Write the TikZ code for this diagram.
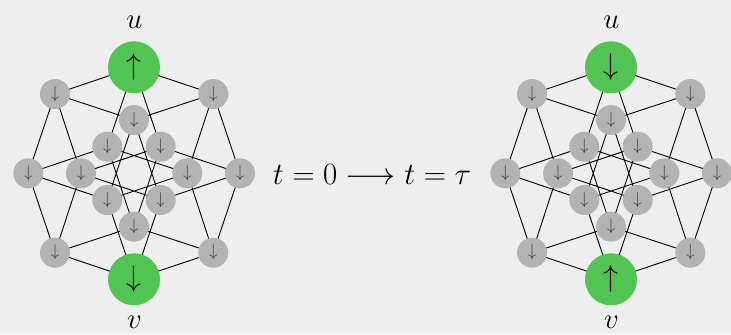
\RequirePackage{fix-cm}
\documentclass[tikz,border=0pt]{standalone}
\usepackage{amsmath}
\definecolor{bg}{HTML}{EEEEEE}
\definecolor{sgreen}{HTML}{52C452}
\definecolor{sgray}{HTML}{B3B3B3}
\definecolor{adark}{HTML}{3A3A3A}
\begin{document}
\begin{tikzpicture}[x=1bp,y=-1bp,
  small/.style={circle,fill=sgray,minimum size=30bp,inner sep=0pt,text=adark,font=\fontsize{17}{20}\selectfont},
  big/.style={circle,fill=sgreen,minimum size=52bp,inner sep=0pt,text=black,font=\fontsize{30}{34}\selectfont},
  lbl/.style={font=\fontsize{29}{34}\selectfont,inner sep=0pt},
  edge/.style={draw=black,line width=0.9bp}]
\fill[bg] (0,0) rectangle (731,334);
\useasboundingbox (0,0) rectangle (731,334);
\foreach \s/\ox/\ua/\va in {l/0/\uparrow/\downarrow, r/477/\downarrow/\uparrow}{
  \begin{scope}[xshift=\ox bp]
  \coordinate (\s A0) at (134,67.3);
  \path
    (55,94) coordinate (\s B) (213.3,94) coordinate (\s C) (134,120) coordinate (\s D)
    (107.3,146.7) coordinate (\s E) (160.7,146.7) coordinate (\s F)
    (28.3,173.3) coordinate (\s G) (81,173.3) coordinate (\s H) (187.3,173.3) coordinate (\s I) (240,173.3) coordinate (\s J)
    (107.3,200) coordinate (\s K) (160.7,200) coordinate (\s L) (134,226.7) coordinate (\s M)
    (55,252.7) coordinate (\s N) (213.3,252.7) coordinate (\s O) (134,279.3) coordinate (\s P0);
  \draw[edge] (\s A0)--(\s B) (\s A0)--(\s C) (\s A0)--(\s E) (\s A0)--(\s F)
    (\s B)--(\s D) (\s B)--(\s G) (\s B)--(\s H)
    (\s C)--(\s D) (\s C)--(\s I) (\s C)--(\s J)
    (\s D)--(\s K) (\s D)--(\s L)
    (\s E)--(\s G) (\s E)--(\s I) (\s E)--(\s M)
    (\s F)--(\s H) (\s F)--(\s J) (\s F)--(\s M)
    (\s G)--(\s K) (\s G)--(\s N)
    (\s H)--(\s L) (\s H)--(\s N)
    (\s I)--(\s K) (\s I)--(\s O)
    (\s J)--(\s L) (\s J)--(\s O)
    (\s K)--(\s P0) (\s L)--(\s P0)
    (\s M)--(\s N) (\s M)--(\s O)
    (\s N)--(\s P0) (\s O)--(\s P0);
  \foreach \n in {B,C,D,E,F,G,H,I,J,K,L,M,N,O}
    \node[small] (\s n\n) at (\s\n) {$\downarrow$};
  \node[big] (\s u) at (\s A0) {$\ua$};
  \node[big] (\s v) at (\s P0) {$\va$};
  \node[lbl] (\s ul) at (134.5,22) {$u$};
  \node[lbl] (\s vl) at (134.5,322) {$v$};
  \end{scope}
}
\node[font=\fontsize{31}{36}\selectfont,inner sep=0pt] (t) at (372,175) {$t=0\longrightarrow t=\tau$};
\end{tikzpicture}
\end{document}
